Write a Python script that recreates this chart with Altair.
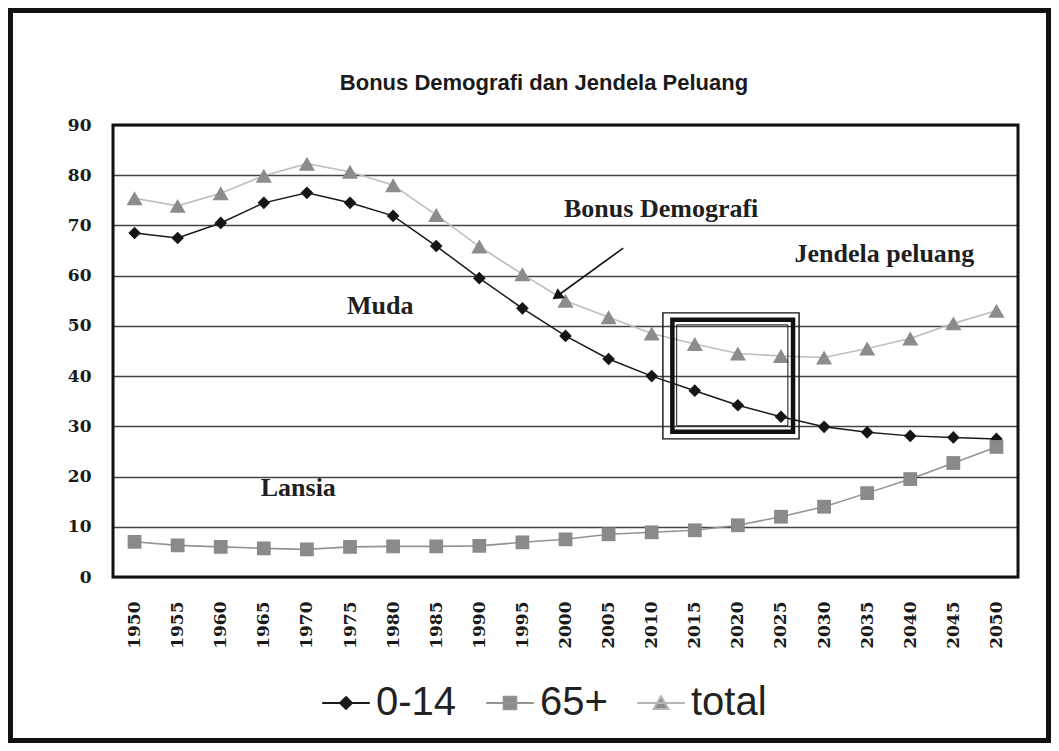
import altair as alt
import pandas as pd

# ---------------- data ----------------
years = list(range(1950, 2051, 5))
young = [68.5, 67.5, 70.5, 74.5, 76.5, 74.5, 71.9, 65.9, 59.5, 53.5, 48.0,
         43.4, 40.0, 37.1, 34.2, 31.9, 29.9, 28.8, 28.1, 27.8, 27.5]
old = [7.0, 6.3, 6.0, 5.7, 5.5, 6.0, 6.1, 6.1, 6.2, 6.9, 7.5,
       8.5, 8.9, 9.3, 10.3, 12.0, 14.0, 16.7, 19.5, 22.7, 25.9]
total = [75.4, 73.9, 76.4, 79.9, 82.3, 80.7, 78.0, 72.1, 65.8, 60.3, 55.0,
         51.7, 48.5, 46.4, 44.5, 44.0, 43.7, 45.5, 47.5, 50.5, 53.0]
series_names = ["0-14", "65+", "total"]
y_ticks = list(range(0, 91, 10))
x_ticks = years

ann_labels = ["Bonus Demografi", "Jendela peluang", "Muda", "Lansia"]
ann_x = [2011.1, 2037.0, 1978.5, 1969.0]
ann_y = [71.6, 62.8, 52.4, 16.2]

arrow_x = [2006.7, 1999.0]
arrow_y = [65.5, 55.9]

box_x = [2011.3, 2012.4, 2012.9]
box_x2 = [2027.1, 2026.4, 2025.8]
box_y = [52.6, 51.2, 50.2]
box_y2 = [27.5, 28.9, 30.1]

title_text = "Bonus Demografi dan Jendela Peluang"

# ---------------- tables ----------------
rows = []
for name, vals in zip(series_names, [young, old, total]):
    for yr, v in zip(years, vals):
        rows.append({"year": yr, "value": v, "series": name})
df = pd.DataFrame(rows)
ann_df = pd.DataFrame({"label": ann_labels, "x": ann_x, "y": ann_y})
arrow_df = pd.DataFrame({"x": [arrow_x[0]], "y": [arrow_y[0]],
                         "x2": [arrow_x[1]], "y2": [arrow_y[1]]})
head_df = pd.DataFrame({"x": [arrow_x[1]], "y": [arrow_y[1]]})
box_df = pd.DataFrame({"x": box_x, "x2": box_x2, "y": box_y, "y2": box_y2,
                       "kind": ["outer", "thick", "inner"]})
one = pd.DataFrame({"a": [0]})
title_df = pd.DataFrame({"t": [title_text]})

W, H = 905, 452
xs = alt.Scale(domain=[1947.5, 2052.5], nice=False, zero=False)
ys = alt.Scale(domain=[0, 90], nice=False)

X = alt.X("year:Q", scale=xs, title=None,
          axis=alt.Axis(values=x_ticks, format="d", labelAngle=-90, grid=False,
                        ticks=False, domain=False, labelPadding=24,
                        labelFont="DejaVu Serif", labelFontWeight="bold",
                        labelFontSize=17, labelColor="#1a1a1a"))
Y = alt.Y("value:Q", scale=ys, title=None,
          axis=alt.Axis(values=y_ticks, grid=True, gridColor="#454545", gridWidth=1.4,
                        ticks=False, domain=False, labelPadding=22,
                        labelFont="DejaVu Serif", labelFontWeight="bold",
                        labelFontSize=17, labelColor="#1a1a1a"))

base = alt.Chart(df)

line_colors = ["#1a1a1a", "#939393", "#bebebe"]
lines = base.mark_line().encode(
    x=X, y=Y,
    color=alt.Color("series:N", scale=alt.Scale(domain=series_names, range=line_colors), legend=None),
    strokeWidth=alt.StrokeWidth("series:N", scale=alt.Scale(domain=series_names, range=[1.5, 1.6, 4]),
                                legend=None),
)

marker_layers = []
for name, shp, sz, col in zip(series_names, ["diamond", "square", "triangle-up"],
                              [160, 190, 260], ["#151515", "#8a8a8a", "#8c8c8c"]):
    marker_layers.append(
        base.transform_filter(alt.datum.series == name)
        .mark_point(shape=shp, size=sz, filled=True, color=col, opacity=1)
        .encode(x=alt.X("year:Q", scale=xs), y=alt.Y("value:Q", scale=ys))
    )

# legend layer (draws no marks, only the legend)
leg_paths = ["M-3.4,0H3.4M0,-0.85L0.85,0L0,0.85L-0.85,0Z",
             "M-3.4,0H3.4M-0.9,-0.9H0.9V0.9H-0.9Z",
             "M-3.4,0H3.4M0,-0.95L1.05,0.85H-1.05Z"]
leg = alt.Legend(title=None, orient="none", legendX=213, legendY=558, direction="horizontal",
                 symbolSize=196, symbolStrokeWidth=2, symbolOpacity=1, labelFont="Liberation Sans",
                 labelFontSize=40, labelColor="#222222", labelOffset=10, columnPadding=25,
                 padding=0)
legend_layer = base.transform_filter(alt.datum.year < 0).mark_point(filled=True, opacity=1).encode(
    x=alt.X("year:Q", scale=xs), y=alt.Y("value:Q", scale=ys),
    shape=alt.Shape("series:N", scale=alt.Scale(domain=series_names, range=leg_paths), legend=leg),
    stroke=alt.Stroke("series:N", scale=alt.Scale(domain=series_names, range=["#1a1a1a", "#939393", "#b5b5b5"]),
                      legend=leg),
    fill=alt.Fill("series:N", scale=alt.Scale(domain=series_names, range=["#1a1a1a", "#8a8a8a", "#8c8c8c"]),
                  legend=leg),
)

ann = alt.Chart(ann_df).mark_text(font="Liberation Serif", fontWeight="bold", fontSize=26,
                                  color="#1f1f1f", align="center", baseline="alphabetic").encode(
    x=alt.X("x:Q", scale=xs), y=alt.Y("y:Q", scale=ys), text="label:N")

title_mark = alt.Chart(title_df).mark_text(font="Liberation Sans", fontWeight="bold", fontSize=22,
                                           color="#1a1a1a", align="center", baseline="alphabetic").encode(
    x=alt.value(431), y=alt.value(-35), text="t:N")

arrow = alt.Chart(arrow_df).mark_rule(color="#111111", strokeWidth=1.6).encode(
    x=alt.X("x:Q", scale=xs), y=alt.Y("y:Q", scale=ys), x2="x2:Q", y2="y2:Q")
head = alt.Chart(head_df).mark_point(shape="triangle-up", size=150, filled=True, color="#111111",
                                     angle=234, opacity=1).encode(
    x=alt.X("x:Q", scale=xs), y=alt.Y("y:Q", scale=ys))

box_layers = []
for kind, sw in zip(["outer", "thick", "inner"], [1.4, 4.5, 1.0]):
    box_layers.append(
        alt.Chart(box_df).transform_filter(alt.datum.kind == kind)
        .mark_rect(filled=False, stroke="#111111", strokeWidth=sw)
        .encode(x=alt.X("x:Q", scale=xs), x2="x2:Q", y=alt.Y("y:Q", scale=ys), y2="y2:Q")
    )

plot_frame = alt.Chart(one).mark_rect(filled=False, stroke="#111111", strokeWidth=3).encode(
    x=alt.value(0), x2=alt.value(W), y=alt.value(0), y2=alt.value(H))
outer_frame = alt.Chart(one).mark_rect(filled=False, stroke="#111111", strokeWidth=5).encode(
    x=alt.value(-102.5), x2=alt.value(935.5), y=alt.value(-114.5), y2=alt.value(615.5))

chart = alt.layer(lines, *marker_layers, legend_layer, ann, title_mark, arrow, head, *box_layers,
                  plot_frame, outer_frame).resolve_scale(
    color="independent", shape="independent", fill="independent", stroke="independent"
).properties(
    width=W, height=H,
    autosize=alt.AutoSizeParams(type="none"),
    padding={"left": 105, "top": 117, "right": 33, "bottom": 166},
    background="white",
).configure_view(stroke=None)

chart.save("out.html", embed_options={"renderer": "svg", "actions": False})
